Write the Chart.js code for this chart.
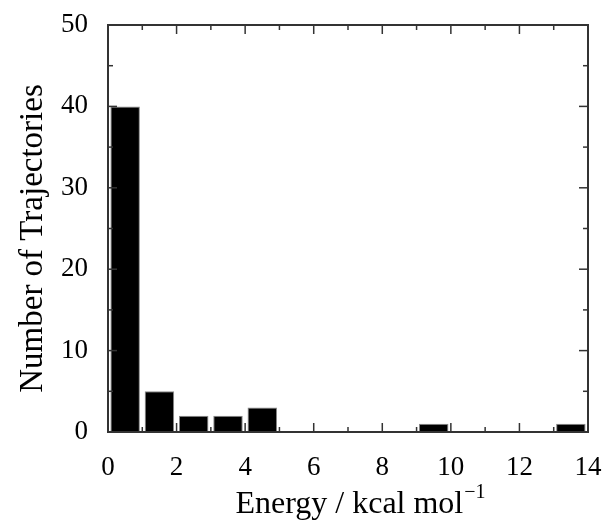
<!DOCTYPE html>
<html>
<head>
<meta charset="utf-8">
<script src="https://cdn.jsdelivr.net/npm/chart.js@4.4.0/dist/chart.umd.min.js"></script>
<style>
  html, body { margin: 0; padding: 0; background: #fff; }
  #wrap { width: 606px; height: 523px; }
</style>
</head>
<body>
<div id="wrap"><canvas id="chart"></canvas></div>
<script>
//Datos del histograma (centro del bin, número de trayectorias)
const binCenters = [0.5, 1.5, 2.5, 3.5, 4.5, 9.5, 13.5];
const counts = [40, 5, 2, 2, 3, 1, 1];

//Ejes
const xTicks = [0, 2, 4, 6, 8, 10, 12, 14];
const xMinor = [1, 3, 5, 7, 9, 11, 13];
const yTicks = [0, 10, 20, 30, 40, 50];
const yMinor = [5, 15, 25, 35, 45];
const xTitle = "Energy / kcal mol";
const xTitleSup = "\u22121";
const yTitle = "Number of Trajectories";

const FONT = "'Liberation Serif', 'Times New Roman', serif";

//Ticks hacia adentro, marco y títulos
const frameAndTitles = {
  id: "frameAndTitles",
  afterDraw(chart) {
    const { ctx, chartArea: a, scales: { x, y } } = chart;
    ctx.save();
    ctx.strokeStyle = "#333";
    ctx.lineWidth = 1.5;
    const tick = (x1, y1, x2, y2) => { ctx.beginPath(); ctx.moveTo(x1, y1); ctx.lineTo(x2, y2); ctx.stroke(); };
    xTicks.forEach(v => { const px = x.getPixelForValue(v); tick(px, a.bottom, px, a.bottom - 9); tick(px, a.top, px, a.top + 9); });
    xMinor.forEach(v => { const px = x.getPixelForValue(v); tick(px, a.bottom, px, a.bottom - 5); tick(px, a.top, px, a.top + 5); });
    yTicks.forEach(v => { const py = y.getPixelForValue(v); tick(a.left, py, a.left + 9, py); tick(a.right, py, a.right - 9, py); });
    yMinor.forEach(v => { const py = y.getPixelForValue(v); tick(a.left, py, a.left + 5, py); tick(a.right, py, a.right - 5, py); });
    ctx.lineWidth = 2;
    ctx.strokeRect(a.left, a.top, a.right - a.left, a.bottom - a.top);

    //Título eje X con superíndice
    ctx.fillStyle = "#000";
    ctx.textBaseline = "alphabetic";
    ctx.font = "32px " + FONT;
    const w1 = ctx.measureText(xTitle).width;
    ctx.font = "20px " + FONT;
    const w2 = ctx.measureText(xTitleSup).width;
    const cx = (a.left + a.right) / 2 + 12;
    let tx = cx - (w1 + w2) / 2;
    const base = 513;
    ctx.font = "32px " + FONT;
    ctx.textAlign = "left";
    ctx.fillText(xTitle, tx, base);
    ctx.font = "20px " + FONT;
    ctx.fillText(xTitleSup, tx + w1 + 1, base - 15);

    //Título eje Y
    ctx.translate(33, (a.top + a.bottom) / 2 + 10);
    ctx.rotate(-Math.PI / 2);
    ctx.font = "33px " + FONT;
    ctx.textAlign = "center";
    ctx.textBaseline = "middle";
    ctx.fillText(yTitle, 0, 0);
    ctx.restore();
  }
};

new Chart(document.getElementById("chart"), {
  type: "bar",
  data: {
    datasets: [{
      data: binCenters.map((c, i) => ({ x: c, y: counts[i] })),
      backgroundColor: "#000",
      borderColor: "#888",
      borderWidth: 1,
      barPercentage: 0.86,
      categoryPercentage: 1
    }]
  },
  options: {
    responsive: true,
    maintainAspectRatio: false,
    animation: false,
    layout: { padding: { top: 25, right: 18, left: 0, bottom: 0 } },
    plugins: { legend: { display: false }, tooltip: { enabled: false } },
    scales: {
      x: {
        type: "linear",
        offset: false,
        min: 0, max: 14,
        afterBuildTicks: s => { s.ticks = xTicks.map(v => ({ value: v })); },
        afterFit: s => { s.height = 91; s.paddingLeft = 0; s.paddingRight = 0; },
        grid: { display: false },
        border: { display: false },
        ticks: { color: "#000", font: { family: FONT, size: 27 }, padding: 12, maxRotation: 0 }
      },
      y: {
        min: 0, max: 50,
        afterBuildTicks: s => { s.ticks = yTicks.map(v => ({ value: v })); },
        afterFit: s => { s.width = 108; s.paddingTop = 0; s.paddingBottom = 0; },
        grid: { display: false },
        border: { display: false },
        ticks: { color: "#000", font: { family: FONT, size: 27 }, padding: 12 }
      }
    }
  },
  plugins: [frameAndTitles]
});
</script>
</body>
</html>
